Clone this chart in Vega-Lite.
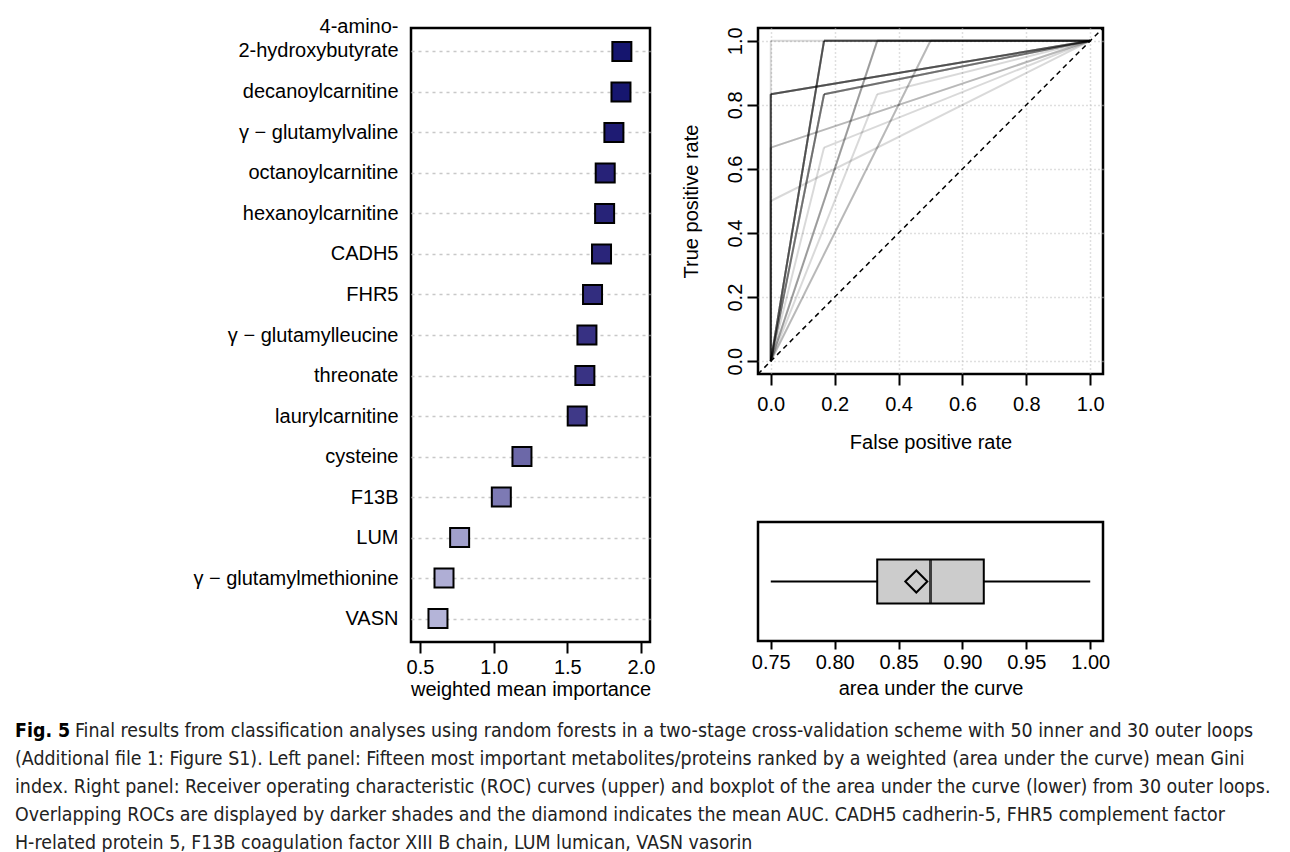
{
  "$schema": "https://vega.github.io/schema/vega-lite/v6.json",
  "background": "white",
  "padding": {"left": 15, "top": 15, "right": 5, "bottom": 0},
  "config": {
    "font": "Liberation Sans",
    "view": {"stroke": "black", "strokeWidth": 2.5},
    "axis": {
      "labelFont": "Liberation Sans", "titleFont": "Liberation Sans",
      "labelFontSize": 20, "titleFontSize": 20, "titleFontWeight": "normal",
      "labelColor": "black", "titleColor": "black",
      "tickColor": "black", "tickWidth": 2, "tickSize": 11, "domain": false
    }
  },
  "datasets": {
    "importance": [
      {"name": "4-amino-2-hydroxybutyrate", "importance": 1.870},
      {"name": "decanoylcarnitine", "importance": 1.864},
      {"name": "γ − glutamylvaline", "importance": 1.816},
      {"name": "octanoylcarnitine", "importance": 1.757},
      {"name": "hexanoylcarnitine", "importance": 1.753},
      {"name": "CADH5", "importance": 1.732},
      {"name": "FHR5", "importance": 1.671},
      {"name": "γ − glutamylleucine", "importance": 1.633},
      {"name": "threonate", "importance": 1.619},
      {"name": "laurylcarnitine", "importance": 1.567},
      {"name": "cysteine", "importance": 1.192},
      {"name": "F13B", "importance": 1.052},
      {"name": "LUM", "importance": 0.769},
      {"name": "γ − glutamylmethionine", "importance": 0.663},
      {"name": "VASN", "importance": 0.622}
    ],
    "roc": [
      {"loop": 1, "fpr": 0, "tpr": 1, "auc": 1, "group": "AUC"},
      {"loop": 2, "fpr": 0, "tpr": 0.8333, "auc": 0.9167, "group": "AUC"},
      {"loop": 3, "fpr": 0.1667, "tpr": 1, "auc": 0.9167, "group": "AUC"},
      {"loop": 4, "fpr": 0.1667, "tpr": 0.8333, "auc": 0.8333, "group": "AUC"},
      {"loop": 5, "fpr": 0, "tpr": 0.8333, "auc": 0.9167, "group": "AUC"},
      {"loop": 6, "fpr": 0.3333, "tpr": 1, "auc": 0.8333, "group": "AUC"},
      {"loop": 7, "fpr": 0.1667, "tpr": 1, "auc": 0.9167, "group": "AUC"},
      {"loop": 8, "fpr": 0, "tpr": 0.6667, "auc": 0.8333, "group": "AUC"},
      {"loop": 9, "fpr": 0, "tpr": 0.5, "auc": 0.75, "group": "AUC"},
      {"loop": 10, "fpr": 0, "tpr": 0.8333, "auc": 0.9167, "group": "AUC"},
      {"loop": 11, "fpr": 0.1667, "tpr": 0.8333, "auc": 0.8333, "group": "AUC"},
      {"loop": 12, "fpr": 0.5, "tpr": 1, "auc": 0.75, "group": "AUC"},
      {"loop": 13, "fpr": 0.1667, "tpr": 1, "auc": 0.9167, "group": "AUC"},
      {"loop": 14, "fpr": 0, "tpr": 0.8333, "auc": 0.9167, "group": "AUC"},
      {"loop": 15, "fpr": 0.3333, "tpr": 0.8333, "auc": 0.75, "group": "AUC"},
      {"loop": 16, "fpr": 0.1667, "tpr": 0.8333, "auc": 0.8333, "group": "AUC"},
      {"loop": 17, "fpr": 0.1667, "tpr": 1, "auc": 0.9167, "group": "AUC"},
      {"loop": 18, "fpr": 0.3333, "tpr": 1, "auc": 0.8333, "group": "AUC"},
      {"loop": 19, "fpr": 0, "tpr": 0.8333, "auc": 0.9167, "group": "AUC"},
      {"loop": 20, "fpr": 0.1667, "tpr": 0.6667, "auc": 0.75, "group": "AUC"},
      {"loop": 21, "fpr": 0.1667, "tpr": 1, "auc": 0.9167, "group": "AUC"},
      {"loop": 22, "fpr": 0, "tpr": 0.6667, "auc": 0.8333, "group": "AUC"},
      {"loop": 23, "fpr": 0.1667, "tpr": 0.8333, "auc": 0.8333, "group": "AUC"},
      {"loop": 24, "fpr": 0, "tpr": 0.8333, "auc": 0.9167, "group": "AUC"},
      {"loop": 25, "fpr": 0.5, "tpr": 1, "auc": 0.75, "group": "AUC"},
      {"loop": 26, "fpr": 0.1667, "tpr": 1, "auc": 0.9167, "group": "AUC"},
      {"loop": 27, "fpr": 0.3333, "tpr": 1, "auc": 0.8333, "group": "AUC"},
      {"loop": 28, "fpr": 0.1667, "tpr": 0.8333, "auc": 0.8333, "group": "AUC"},
      {"loop": 29, "fpr": 0, "tpr": 0.8333, "auc": 0.9167, "group": "AUC"},
      {"loop": 30, "fpr": 0.1667, "tpr": 1, "auc": 0.9167, "group": "AUC"}
    ],
    "caption": [
      {"line": 1, "lead": "Fig. 5", "text": "Final results from classification analyses using random forests in a two-stage cross-validation scheme with 50 inner and 30 outer loops"},
      {"line": 2, "lead": "", "text": "(Additional file 1: Figure S1). Left panel: Fifteen most important metabolites/proteins ranked by a weighted (area under the curve) mean Gini"},
      {"line": 3, "lead": "", "text": "index. Right panel: Receiver operating characteristic (ROC) curves (upper) and boxplot of the area under the curve (lower) from 30 outer loops."},
      {"line": 4, "lead": "", "text": "Overlapping ROCs are displayed by darker shades and the diamond indicates the mean AUC. CADH5 cadherin-5, FHR5 complement factor"},
      {"line": 5, "lead": "", "text": "H-related protein 5, F13B coagulation factor XIII B chain, LUM lumican, VASN vasorin"}
    ]
  },
  "spacing": 16,
  "vconcat": [
    {
      "spacing": 22,
      "hconcat": [
        {
          "width": 154,
          "height": 10,
          "view": {"stroke": null},
          "data": {"values": [{"spacer": ""}]},
          "mark": {"type": "text"},
          "encoding": {"text": {"field": "spacer"}}
        },
        {
          "width": 239,
          "height": 614,
          "data": {"name": "importance"},
          "mark": {"type": "square", "size": 361, "stroke": "black", "strokeWidth": 2, "opacity": 1},
          "encoding": {
            "y": {
              "field": "name", "type": "nominal", "sort": null,
              "scale": {"type": "point", "padding": 0.58},
              "axis": {
                "title": null, "ticks": false, "grid": true,
                "gridDash": [3, 4], "gridColor": "#c8c8c8", "gridWidth": 1.5,
                "labelPadding": 13, "labelLineHeight": 24, "labelLimit": 0,
                "labelExpr": "datum.value == '4-amino-2-hydroxybutyrate' ? ['4-amino-', '2-hydroxybutyrate'] : datum.label",
                "labelOffset": {"condition": {"test": "datum.value == '4-amino-2-hydroxybutyrate'", "value": -25}, "value": 0}
              }
            },
            "x": {
              "field": "importance", "type": "quantitative",
              "scale": {"domain": [0.439, 2.061], "nice": false, "zero": false},
              "axis": {"values": [0.5, 1, 1.5, 2], "format": ".1f", "grid": false, "title": "weighted mean importance", "labelPadding": 4, "titlePadding": 2}
            },
            "fill": {
              "field": "importance", "type": "quantitative",
              "scale": {"domain": [0.622, 1.87], "range": ["#b4b4d8", "#15156e"]},
              "legend": null
            }
          }
        },
        {
          "spacing": 66,
          "vconcat": [
            {
              "width": 345,
              "height": 346,
              "data": {"name": "roc"},
              "layer": [
                {
                  "mark": {"type": "rule", "stroke": "black", "strokeOpacity": 0.15, "strokeWidth": 2},
                  "encoding": {
                    "x": {
                      "field": "fpr", "type": "quantitative",
                      "scale": {"domain": [-0.04, 1.04], "nice": false, "zero": false},
                      "axis": {"values": [0, 0.2, 0.4, 0.6, 0.8, 1], "format": ".1f", "grid": true, "gridDash": [1, 3], "gridColor": "#c0c0c0", "gridWidth": 1.5, "title": "False positive rate", "labelPadding": 9, "titlePadding": 18}
                    },
                    "y": {
                      "field": "tpr", "type": "quantitative",
                      "scale": {"domain": [-0.04, 1.04], "nice": false, "zero": false},
                      "axis": {"values": [0, 0.2, 0.4, 0.6, 0.8, 1], "format": ".1f", "grid": true, "gridDash": [1, 3], "gridColor": "#c0c0c0", "gridWidth": 1.5, "title": "True positive rate", "labelAngle": 270, "labelAlign": "center", "labelBaseline": "bottom", "labelPadding": 2, "titlePadding": 24}
                    },
                    "x2": {"datum": 0},
                    "y2": {"datum": 0}
                  }
                },
                {
                  "mark": {"type": "rule", "stroke": "black", "strokeOpacity": 0.15, "strokeWidth": 2},
                  "encoding": {
                    "x": {"field": "fpr", "type": "quantitative"},
                    "y": {"field": "tpr", "type": "quantitative"},
                    "x2": {"datum": 1},
                    "y2": {"datum": 1}
                  }
                },
                {
                  "data": {"values": [{"diag": "chance"}]},
                  "mark": {"type": "rule", "stroke": "black", "strokeDash": [5, 4], "strokeWidth": 1.5},
                  "encoding": {
                    "x": {"datum": -0.04},
                    "y": {"datum": -0.04},
                    "x2": {"datum": 1.04},
                    "y2": {"datum": 1.04}
                  }
                }
              ]
            },
            {
              "width": 345,
              "height": 119,
              "data": {"name": "roc"},
              "layer": [
                {
                  "mark": {
                    "type": "boxplot", "extent": "min-max", "size": 44, "color": "#cccccc",
                    "box": {"stroke": "black", "strokeWidth": 2},
                    "median": {"color": "black", "thickness": 3},
                    "rule": {"color": "black", "strokeWidth": 2},
                    "ticks": false
                  },
                  "encoding": {
                    "x": {
                      "field": "auc", "type": "quantitative",
                      "scale": {"domain": [0.74, 1.01], "nice": false, "zero": false},
                      "axis": {"values": [0.75, 0.8, 0.85, 0.9, 0.95, 1.0], "format": ".2f", "grid": false, "title": "area under the curve", "tickSize": 8, "labelPadding": 3, "titlePadding": 6}
                    },
                    "y": {"field": "group", "type": "nominal", "axis": null}
                  }
                },
                {
                  "mark": {"type": "point", "shape": "diamond", "filled": false, "stroke": "black", "strokeWidth": 2, "size": 484, "opacity": 1},
                  "encoding": {
                    "x": {"aggregate": "mean", "field": "auc", "type": "quantitative"},
                    "y": {"field": "group", "type": "nominal"}
                  }
                }
              ]
            }
          ]
        }
      ]
    },
    {
      "width": 1260,
      "height": 140,
      "view": {"stroke": null},
      "data": {"name": "caption"},
      "encoding": {
        "y": {"field": "line", "type": "ordinal", "scale": {"type": "point", "padding": 0.5}, "axis": null}
      },
      "layer": [
        {
          "transform": [{"filter": "datum.line == 1"}],
          "mark": {"type": "text", "align": "left", "baseline": "middle", "font": "Liberation Sans Narrow, DejaVu Sans Condensed, sans-serif", "fontSize": 19.4, "fontWeight": "bold", "x": 0, "color": "black"},
          "encoding": {"text": {"field": "lead"}}
        },
        {
          "transform": [{"filter": "datum.line == 1"}],
          "mark": {"type": "text", "align": "left", "baseline": "middle", "font": "Liberation Sans Narrow, DejaVu Sans Condensed, sans-serif", "fontSize": 19.4, "x": 0, "dx": 60, "color": "#222222"},
          "encoding": {"text": {"field": "text"}}
        },
        {
          "transform": [{"filter": "datum.line > 1"}],
          "mark": {"type": "text", "align": "left", "baseline": "middle", "font": "Liberation Sans Narrow, DejaVu Sans Condensed, sans-serif", "fontSize": 19.4, "x": 0, "color": "#222222"},
          "encoding": {"text": {"field": "text"}}
        }
      ]
    }
  ]
}
